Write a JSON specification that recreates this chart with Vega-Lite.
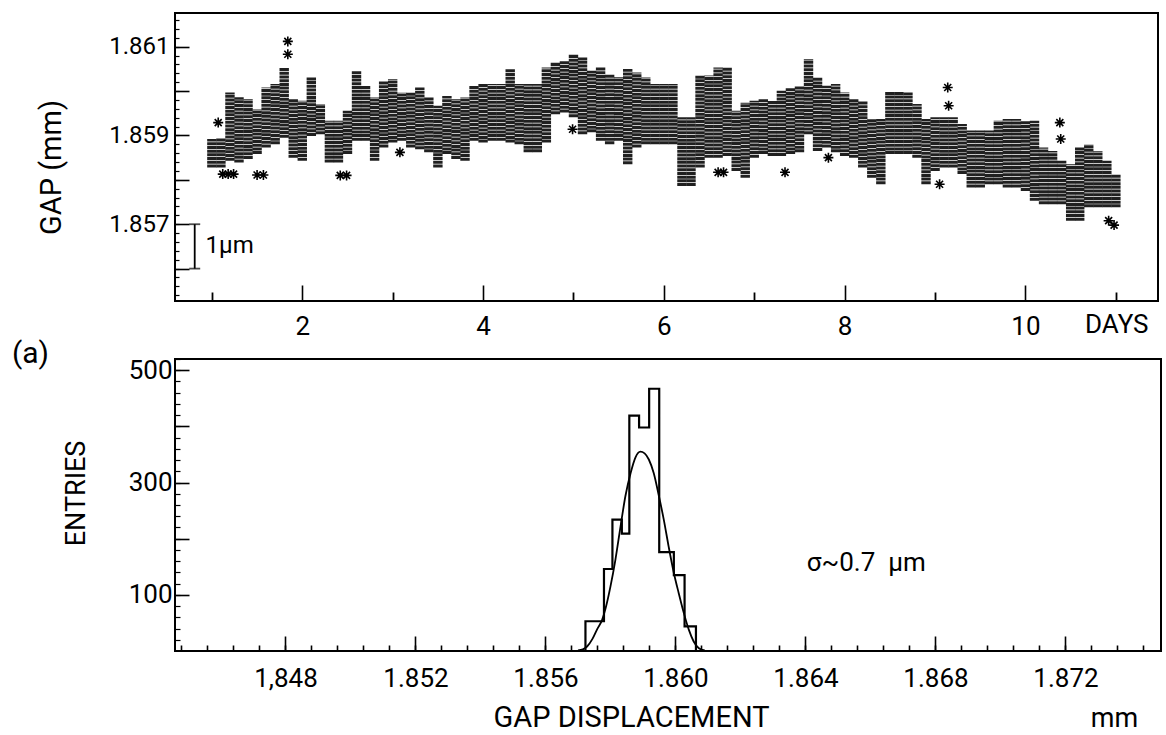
{
  "$schema": "https://vega.github.io/schema/vega-lite/v6.json",
  "background": "white",
  "padding": {"left": 10, "top": 12, "right": 4, "bottom": 4},
  "bounds": "flush",
  "spacing": 58,
  "config": {
    "view": {"stroke": "black", "strokeWidth": 2},
    "axis": {
      "domain": false, "grid": false,
      "labelFont": "Roboto", "titleFont": "Roboto",
      "labelColor": "black", "titleColor": "black", "tickColor": "black",
      "titleFontWeight": "normal", "tickWidth": 1.6,
      "labelOverlap": false, "labelFlush": false
    },
    "text": {"font": "Roboto", "color": "black"}
  },
  "datasets": {
    "band": [
      {"day": 1.0, "lo": 1.85828, "hi": 1.85892},
      {"day": 1.1, "lo": 1.85828, "hi": 1.85895},
      {"day": 1.2, "lo": 1.85843, "hi": 1.85997},
      {"day": 1.3, "lo": 1.85839, "hi": 1.85986},
      {"day": 1.4, "lo": 1.85847, "hi": 1.85982},
      {"day": 1.5, "lo": 1.85858, "hi": 1.85959},
      {"day": 1.6, "lo": 1.85873, "hi": 1.86008},
      {"day": 1.7, "lo": 1.85880, "hi": 1.86016},
      {"day": 1.8, "lo": 1.85895, "hi": 1.86053},
      {"day": 1.9, "lo": 1.85850, "hi": 1.85982},
      {"day": 2.0, "lo": 1.85843, "hi": 1.85978},
      {"day": 2.1, "lo": 1.85899, "hi": 1.86031},
      {"day": 2.2, "lo": 1.85903, "hi": 1.85971},
      {"day": 2.3, "lo": 1.85839, "hi": 1.85933},
      {"day": 2.4, "lo": 1.85839, "hi": 1.85933},
      {"day": 2.5, "lo": 1.85858, "hi": 1.85956},
      {"day": 2.6, "lo": 1.85888, "hi": 1.86046},
      {"day": 2.7, "lo": 1.85888, "hi": 1.86012},
      {"day": 2.8, "lo": 1.85843, "hi": 1.85986},
      {"day": 2.9, "lo": 1.85873, "hi": 1.86023},
      {"day": 3.0, "lo": 1.85884, "hi": 1.86027},
      {"day": 3.1, "lo": 1.85888, "hi": 1.85997},
      {"day": 3.2, "lo": 1.85873, "hi": 1.85997},
      {"day": 3.3, "lo": 1.85869, "hi": 1.86008},
      {"day": 3.4, "lo": 1.85862, "hi": 1.85986},
      {"day": 3.5, "lo": 1.85828, "hi": 1.85967},
      {"day": 3.6, "lo": 1.85858, "hi": 1.85989},
      {"day": 3.7, "lo": 1.85847, "hi": 1.85982},
      {"day": 3.8, "lo": 1.85843, "hi": 1.85986},
      {"day": 3.9, "lo": 1.85888, "hi": 1.86012},
      {"day": 4.0, "lo": 1.85884, "hi": 1.86016},
      {"day": 4.1, "lo": 1.85888, "hi": 1.86016},
      {"day": 4.2, "lo": 1.85888, "hi": 1.86016},
      {"day": 4.3, "lo": 1.85884, "hi": 1.86050},
      {"day": 4.4, "lo": 1.85880, "hi": 1.86016},
      {"day": 4.5, "lo": 1.85862, "hi": 1.86016},
      {"day": 4.6, "lo": 1.85862, "hi": 1.86016},
      {"day": 4.7, "lo": 1.85884, "hi": 1.86053},
      {"day": 4.8, "lo": 1.85948, "hi": 1.86065},
      {"day": 4.9, "lo": 1.85952, "hi": 1.86068},
      {"day": 5.0, "lo": 1.85941, "hi": 1.86083},
      {"day": 5.1, "lo": 1.85903, "hi": 1.86076},
      {"day": 5.2, "lo": 1.85907, "hi": 1.86046},
      {"day": 5.3, "lo": 1.85888, "hi": 1.86053},
      {"day": 5.4, "lo": 1.85880, "hi": 1.86038},
      {"day": 5.5, "lo": 1.85888, "hi": 1.86031},
      {"day": 5.6, "lo": 1.85835, "hi": 1.86050},
      {"day": 5.7, "lo": 1.85873, "hi": 1.86042},
      {"day": 5.8, "lo": 1.85880, "hi": 1.86031},
      {"day": 5.9, "lo": 1.85880, "hi": 1.86016},
      {"day": 6.0, "lo": 1.85880, "hi": 1.86016},
      {"day": 6.1, "lo": 1.85880, "hi": 1.86016},
      {"day": 6.2, "lo": 1.85786, "hi": 1.85941},
      {"day": 6.3, "lo": 1.85786, "hi": 1.85941},
      {"day": 6.4, "lo": 1.85828, "hi": 1.86035},
      {"day": 6.5, "lo": 1.85850, "hi": 1.86035},
      {"day": 6.6, "lo": 1.85850, "hi": 1.86053},
      {"day": 6.7, "lo": 1.85854, "hi": 1.86053},
      {"day": 6.8, "lo": 1.85820, "hi": 1.85956},
      {"day": 6.9, "lo": 1.85805, "hi": 1.85974},
      {"day": 7.0, "lo": 1.85850, "hi": 1.85978},
      {"day": 7.1, "lo": 1.85858, "hi": 1.85982},
      {"day": 7.2, "lo": 1.85854, "hi": 1.85978},
      {"day": 7.3, "lo": 1.85854, "hi": 1.86001},
      {"day": 7.4, "lo": 1.85858, "hi": 1.86008},
      {"day": 7.5, "lo": 1.85862, "hi": 1.86012},
      {"day": 7.6, "lo": 1.85903, "hi": 1.86072},
      {"day": 7.7, "lo": 1.85865, "hi": 1.86031},
      {"day": 7.8, "lo": 1.85873, "hi": 1.86012},
      {"day": 7.9, "lo": 1.85862, "hi": 1.86016},
      {"day": 8.0, "lo": 1.85854, "hi": 1.85997},
      {"day": 8.1, "lo": 1.85850, "hi": 1.85982},
      {"day": 8.2, "lo": 1.85828, "hi": 1.85978},
      {"day": 8.3, "lo": 1.85805, "hi": 1.85937},
      {"day": 8.4, "lo": 1.85790, "hi": 1.85937},
      {"day": 8.5, "lo": 1.85858, "hi": 1.85999},
      {"day": 8.6, "lo": 1.85858, "hi": 1.85999},
      {"day": 8.7, "lo": 1.85858, "hi": 1.85997},
      {"day": 8.8, "lo": 1.85850, "hi": 1.85971},
      {"day": 8.9, "lo": 1.85790, "hi": 1.85937},
      {"day": 9.0, "lo": 1.85820, "hi": 1.85941},
      {"day": 9.1, "lo": 1.85828, "hi": 1.85941},
      {"day": 9.2, "lo": 1.85828, "hi": 1.85941},
      {"day": 9.3, "lo": 1.85813, "hi": 1.85926},
      {"day": 9.4, "lo": 1.85783, "hi": 1.85911},
      {"day": 9.5, "lo": 1.85783, "hi": 1.85911},
      {"day": 9.6, "lo": 1.85790, "hi": 1.85911},
      {"day": 9.7, "lo": 1.85790, "hi": 1.85933},
      {"day": 9.8, "lo": 1.85783, "hi": 1.85937},
      {"day": 9.9, "lo": 1.85783, "hi": 1.85937},
      {"day": 10.0, "lo": 1.85775, "hi": 1.85933},
      {"day": 10.1, "lo": 1.85753, "hi": 1.85933},
      {"day": 10.2, "lo": 1.85745, "hi": 1.85873},
      {"day": 10.3, "lo": 1.85745, "hi": 1.85865},
      {"day": 10.4, "lo": 1.85745, "hi": 1.85843},
      {"day": 10.5, "lo": 1.85708, "hi": 1.85835},
      {"day": 10.6, "lo": 1.85708, "hi": 1.85873},
      {"day": 10.7, "lo": 1.85738, "hi": 1.85880},
      {"day": 10.8, "lo": 1.85738, "hi": 1.85865},
      {"day": 10.9, "lo": 1.85738, "hi": 1.85843},
      {"day": 11.0, "lo": 1.85738, "hi": 1.85813}
    ],
    "outliers": [
      {"day": 1.07, "gap": 1.85929},
      {"day": 1.12, "gap": 1.85813},
      {"day": 1.18, "gap": 1.85813},
      {"day": 1.24, "gap": 1.85813},
      {"day": 1.50, "gap": 1.85811},
      {"day": 1.57, "gap": 1.85811},
      {"day": 1.84, "gap": 1.86112},
      {"day": 1.84, "gap": 1.86083},
      {"day": 2.42, "gap": 1.85810},
      {"day": 2.49, "gap": 1.85810},
      {"day": 3.08, "gap": 1.85862},
      {"day": 4.99, "gap": 1.85914},
      {"day": 6.60, "gap": 1.85817},
      {"day": 6.66, "gap": 1.85817},
      {"day": 7.34, "gap": 1.85817},
      {"day": 7.82, "gap": 1.85850},
      {"day": 9.05, "gap": 1.85790},
      {"day": 9.14, "gap": 1.86008},
      {"day": 9.15, "gap": 1.85967},
      {"day": 10.38, "gap": 1.85929},
      {"day": 10.39, "gap": 1.85892},
      {"day": 10.92, "gap": 1.85708},
      {"day": 10.98, "gap": 1.85698}
    ],
    "scalebar": [{"day": 0.81, "lo": 1.856, "hi": 1.857}],
    "scalecaps": [{"day": 0.81, "gap": 1.856}, {"day": 0.81, "gap": 1.857}],
    "scalelabel": [{"day": 0.93, "gap": 1.8565, "text": "1µm"}],
    "hist": [
      {"i": 0, "x": 1.85723, "n": 0},
      {"i": 1, "x": 1.85723, "n": 53},
      {"i": 2, "x": 1.85780, "n": 146},
      {"i": 3, "x": 1.85806, "n": 234},
      {"i": 4, "x": 1.85835, "n": 209},
      {"i": 5, "x": 1.85858, "n": 419},
      {"i": 6, "x": 1.85888, "n": 398},
      {"i": 7, "x": 1.85919, "n": 467},
      {"i": 8, "x": 1.85950, "n": 176},
      {"i": 9, "x": 1.85995, "n": 135},
      {"i": 10, "x": 1.86028, "n": 44},
      {"i": 11, "x": 1.86063, "n": 0}
    ],
    "fit": [
      {"x": 1.85700, "n": 1},
      {"x": 1.85715, "n": 3},
      {"x": 1.85728, "n": 8},
      {"x": 1.85745, "n": 22},
      {"x": 1.85760, "n": 40},
      {"x": 1.85774, "n": 55},
      {"x": 1.85785, "n": 76},
      {"x": 1.85800, "n": 115},
      {"x": 1.85815, "n": 162},
      {"x": 1.85831, "n": 222},
      {"x": 1.85846, "n": 276},
      {"x": 1.85862, "n": 317},
      {"x": 1.85877, "n": 345},
      {"x": 1.85892, "n": 355},
      {"x": 1.85905, "n": 352},
      {"x": 1.85918, "n": 341},
      {"x": 1.85933, "n": 317},
      {"x": 1.85949, "n": 276},
      {"x": 1.85964, "n": 234},
      {"x": 1.85979, "n": 186},
      {"x": 1.85995, "n": 139},
      {"x": 1.86010, "n": 103},
      {"x": 1.86026, "n": 67},
      {"x": 1.86041, "n": 38},
      {"x": 1.86056, "n": 17},
      {"x": 1.86072, "n": 5},
      {"x": 1.86090, "n": 1}
    ],
    "note": [{"x": 1.86404, "n": 157, "text": "σ~0.7\u00a0\u00a0µm"}]
  },
  "vconcat": [
    {
      "width": 983,
      "height": 288,
      "resolve": {"axis": {"x": "independent", "y": "independent"}},
      "layer": [
        {
          "data": {"name": "band"},
          "mark": {"type": "rule", "strokeWidth": 9.4, "color": "#202020", "strokeCap": "butt", "strokeDash": [3, 0.7]},
          "encoding": {
            "x": {
              "field": "day", "type": "quantitative",
              "scale": {"domain": [0.592, 11.466], "nice": false, "zero": false},
              "axis": {
                "orient": "bottom",
                "values": [2, 4, 6, 8, 10],
                "tickSize": -16,
                "labelFontSize": 26, "labelPadding": 28,
                "title": "DAYS", "titleFontSize": 26,
                "titleX": 973, "titleY": 31, "titleAlign": "right", "titleBaseline": "alphabetic"
              }
            },
            "y": {
              "field": "lo", "type": "quantitative",
              "scale": {"domain": [1.85527, 1.86176], "nice": false, "zero": false},
              "axis": {
                "orient": "left",
                "values": [1.856, 1.857, 1.858, 1.859, 1.86, 1.861],
                "labelExpr": "round(datum.value * 1000) % 2 == 1 ? format(datum.value, '.3f') : ''",
                "tickSize": -14, "labelFontSize": 24, "labelPadding": 20,
                "title": "GAP (mm)", "titleFontSize": 29,
                "titleX": -124, "titleY": 154, "titleAlign": "center", "titleBaseline": "middle"
              }
            },
            "y2": {"field": "hi"}
          }
        },
        {
          "data": {"name": "outliers"},
          "mark": {
            "type": "point", "filled": false, "stroke": "black", "strokeWidth": 1.6, "size": 100, "opacity": 1,
            "shape": "M-1,0L1,0M0,-1L0,1M-0.7,-0.7L0.7,0.7M-0.7,0.7L0.7,-0.7"
          },
          "encoding": {
            "x": {
              "field": "day", "type": "quantitative",
              "axis": {"orient": "bottom", "values": [1, 3, 5, 7, 9, 11], "labelExpr": "''", "title": null, "ticks": true, "tickSize": -9, "tickWidth": 1.8, "labelPadding": 0}
            },
            "y": {
              "field": "gap", "type": "quantitative",
              "axis": {
                "orient": "left", "labels": false, "title": null, "tickSize": -4, "tickWidth": 1.2,
                "values": [1.8554, 1.8556, 1.8558, 1.856, 1.8562, 1.8564, 1.8566, 1.8568, 1.857, 1.8572, 1.8574, 1.8576, 1.8578, 1.858, 1.8582, 1.8584, 1.8586, 1.8588, 1.859, 1.8592, 1.8594, 1.8596, 1.8598, 1.86, 1.8602, 1.8604, 1.8606, 1.8608, 1.861, 1.8612, 1.8614, 1.8616]
              }
            }
          }
        },
        {
          "data": {"name": "scalebar"},
          "mark": {"type": "rule", "color": "black", "strokeWidth": 1.8},
          "encoding": {
            "x": {"field": "day", "type": "quantitative", "axis": null},
            "y": {"field": "lo", "type": "quantitative", "axis": null},
            "y2": {"field": "hi"}
          }
        },
        {
          "data": {"name": "scalecaps"},
          "mark": {"type": "tick", "orient": "horizontal", "color": "black", "size": 11, "thickness": 1.8},
          "encoding": {
            "x": {"field": "day", "type": "quantitative", "axis": null},
            "y": {"field": "gap", "type": "quantitative", "axis": null}
          }
        },
        {
          "data": {"name": "scalelabel"},
          "mark": {"type": "text", "align": "left", "baseline": "middle", "fontSize": 24},
          "encoding": {
            "x": {"field": "day", "type": "quantitative", "axis": null},
            "y": {"field": "gap", "type": "quantitative", "axis": null},
            "text": {"field": "text"}
          }
        }
      ]
    },
    {
      "width": 986,
      "height": 292,
      "resolve": {"axis": {"x": "independent", "y": "independent"}},
      "layer": [
        {
          "data": {"name": "hist"},
          "mark": {"type": "line", "interpolate": "step-after", "color": "black", "strokeWidth": 2.2},
          "encoding": {
            "x": {
              "field": "x", "type": "quantitative",
              "scale": {"domain": [1.8446, 1.87494], "nice": false, "zero": false},
              "axis": {
                "orient": "bottom",
                "values": [1.848, 1.852, 1.856, 1.86, 1.864, 1.868, 1.872],
                "labelExpr": "abs(datum.value - 1.848) < 0.000001 ? '1,848' : format(datum.value, '.3f')",
                "tickSize": -15, "labelFontSize": 26, "labelPadding": 29,
                "title": "GAP DISPLACEMENT", "titleFontSize": 29,
                "titleX": 456, "titleY": 75, "titleAlign": "center", "titleBaseline": "alphabetic"
              }
            },
            "y": {
              "field": "n", "type": "quantitative",
              "scale": {"domain": [0, 520], "nice": false, "zero": false},
              "axis": {
                "orient": "left",
                "values": [100, 200, 300, 400, 500],
                "labelExpr": "datum.value % 200 == 100 ? datum.label : ''",
                "tickSize": -14, "labelFontSize": 26, "labelPadding": 17,
                "title": "ENTRIES", "titleFontSize": 27,
                "titleX": -99, "titleY": 134, "titleAlign": "center", "titleBaseline": "middle"
              }
            },
            "order": {"field": "i", "type": "quantitative"}
          }
        },
        {
          "data": {"name": "fit"},
          "mark": {"type": "line", "interpolate": "monotone", "color": "black", "strokeWidth": 1.8},
          "encoding": {
            "x": {
              "field": "x", "type": "quantitative",
              "axis": {
                "orient": "bottom", "labelExpr": "''", "labelPadding": 0, "ticks": true, "tickSize": -6, "tickWidth": 1.6,
                "values": [1.8448, 1.8456, 1.8464, 1.8472, 1.848, 1.8488, 1.8496, 1.8504, 1.8512, 1.852, 1.8528, 1.8536, 1.8544, 1.8552, 1.856, 1.8568, 1.8576, 1.8584, 1.8592, 1.86, 1.8608, 1.8616, 1.8624, 1.8632, 1.864, 1.8648, 1.8656, 1.8664, 1.8672, 1.868, 1.8688, 1.8696, 1.8704, 1.8712, 1.872, 1.8728, 1.8736, 1.8744],
                "title": "mm", "titleFontSize": 27,
                "titleX": 939, "titleY": 75, "titleAlign": "center", "titleBaseline": "alphabetic"
              }
            },
            "y": {
              "field": "n", "type": "quantitative",
              "axis": {
                "orient": "left", "labels": false, "tickSize": -5, "tickWidth": 1.2,
                "values": [20, 40, 60, 80, 100, 120, 140, 160, 180, 200, 220, 240, 260, 280, 300, 320, 340, 360, 380, 400, 420, 440, 460, 480, 500, 520],
                "title": "(a)", "titleFontSize": 30, "titleAngle": 0,
                "titleX": -145, "titleY": -6, "titleAlign": "center", "titleBaseline": "middle"
              }
            }
          }
        },
        {
          "data": {"name": "note"},
          "mark": {"type": "text", "align": "left", "baseline": "middle", "fontSize": 26},
          "encoding": {
            "x": {"field": "x", "type": "quantitative", "axis": null},
            "y": {"field": "n", "type": "quantitative", "axis": null},
            "text": {"field": "text"}
          }
        }
      ]
    }
  ]
}
